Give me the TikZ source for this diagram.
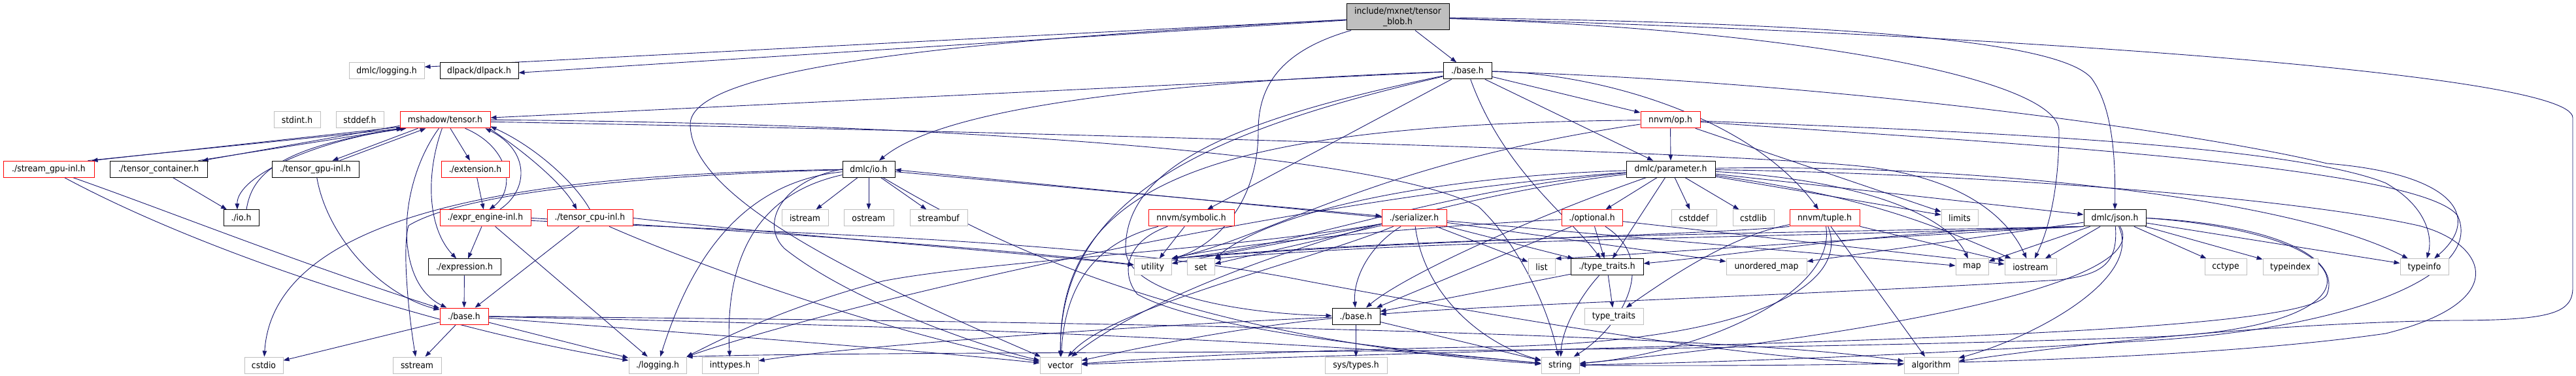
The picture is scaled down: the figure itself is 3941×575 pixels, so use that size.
\documentclass[tikz,border=0pt]{standalone}
\usepackage{fontspec}
\setmainfont{DejaVu Sans}[FakeStretch=0.92]
\usepackage{tikz}
\usetikzlibrary{arrows.meta,calc,positioning,backgrounds}
\definecolor{edgeblue}{HTML}{191970}
\definecolor{leafgray}{HTML}{BFBFBF}

\begin{document}
\begin{tikzpicture}[x=1pt,y=-1pt,
    box/.style={rectangle,minimum height=25pt,inner xsep=1pt,inner ysep=0pt,line width=1pt,fill=white,font=\fontsize{13.5}{16}\selectfont},
    leaf/.style={box,draw=leafgray},
    doc/.style={box,draw=black},
    trunc/.style={box,draw=red},
    edge/.style={draw=edgeblue,line width=0.9pt,-{Triangle[length=9pt,width=6.5pt]}}]
                \useasboundingbox (0,0) rectangle (3941,575);
                %Root
                \node[doc,fill=leafgray,minimum width=157pt,minimum height=40pt,align=center] (blob) at (2138.5,26) {include/mxnet/tensor\\\_blob.h};
                %Row 1
                \node[leaf,minimum width=115pt] (dmlclog) at (591.5,108.3) {dmlc/logging.h};
                \node[doc,minimum width=120pt] (dlpack) at (733,108.3) {dlpack/dlpack.h};
                \node[doc,minimum width=74pt] (mxbase) at (2245,108.3) {./base.h};
                %Row 2
                \node[leaf,minimum width=71pt] (stdint) at (454.5,183.3) {stdint.h};
                \node[leaf,minimum width=73pt] (stddef) at (550.5,183.3) {stddef.h};
                \node[trunc,minimum width=138pt] (tensor) at (681,183.3) {mshadow/tensor.h};
                \node[trunc,minimum width=91pt] (nnvmop) at (2555.5,183.3) {nnvm/op.h};
                %Row 3
                \node[trunc,minimum width=139pt] (streamgpu) at (74.5,258.6) {./stream\_gpu-inl.h};
                \node[doc,minimum width=149pt] (tcont) at (242.5,258.6) {./tensor\_container.h};
                \node[doc,minimum width=133pt] (tgpu) at (482.5,258.6) {./tensor\_gpu-inl.h};
                \node[trunc,minimum width=104pt] (ext) at (727,258.6) {./extension.h};
                \node[doc,minimum width=80pt] (dmlcio) at (1329,258.6) {dmlc/io.h};
                \node[doc,minimum width=136pt] (param) at (2556,258.6) {dmlc/parameter.h};
                %Row 4
                \node[doc,minimum width=54pt] (ioh) at (369,333.4) {./io.h};
                \node[trunc,minimum width=139pt] (exprengine) at (742.5,333.4) {./expr\_engine-inl.h};
                \node[trunc,minimum width=131pt] (tcpu) at (902.5,333.4) {./tensor\_cpu-inl.h};
                \node[leaf,minimum width=71pt] (istream) at (1231.5,333.4) {istream};
                \node[leaf,minimum width=76pt] (ostream) at (1329,333.4) {ostream};
                \node[leaf,minimum width=88pt] (streambuf) at (1436,333.4) {streambuf};
                \node[trunc,minimum width=131pt] (symbolic) at (1822.5,333.4) {nnvm/symbolic.h};
                \node[trunc,minimum width=99pt] (serializer) at (2163.5,333.4) {./serializer.h};
                \node[trunc,minimum width=93pt] (optional) at (2435.5,333.4) {./optional.h};
                \node[leaf,minimum width=69pt] (cstddef) at (2591.5,333.4) {cstddef};
                \node[leaf,minimum width=63pt] (cstdlib) at (2682.5,333.4) {cstdlib};
                \node[trunc,minimum width=107pt] (tuple) at (2791.5,333.4) {nnvm/tuple.h};
                \node[leaf,minimum width=56pt] (limits) at (2998,333.4) {limits};
                \node[doc,minimum width=95pt] (json) at (3235.5,333.4) {dmlc/json.h};
                %Row 5
                \node[doc,minimum width=111pt] (expression) at (710.5,408.4) {./expression.h};
                \node[leaf,minimum width=57pt] (utility) at (1763.5,408.4) {utility};
                \node[leaf,minimum width=42pt] (set) at (1837,408.4) {set};
                \node[leaf,minimum width=41pt] (list) at (2358.5,408.4) {list};
                \node[doc,minimum width=111pt] (typetraitsh) at (2458.5,408.4) {./type\_traits.h};
                \node[leaf,minimum width=123pt] (unorderedmap) at (2702.5,408.4) {unordered\_map};
                \node[leaf,minimum width=50pt] (map) at (3017,408.4) {map};
                \node[leaf,minimum width=79pt] (iostream) at (3106.5,408.4) {iostream};
                \node[leaf,minimum width=64pt] (cctype) at (3405,408.4) {cctype};
                \node[leaf,minimum width=84pt] (typeindex) at (3504,408.4) {typeindex};
                \node[leaf,minimum width=74pt] (typeinfo) at (3709,408.4) {typeinfo};
                %Row 6
                \node[trunc,minimum width=74pt] (mshbase) at (710,483.5) {./base.h};
                \node[doc,minimum width=73pt] (dmlcbase) at (2074.5,483.5) {./base.h};
                \node[leaf,minimum width=90pt] (typetraits) at (2469,483.5) {type\_traits};
                %Row 7
                \node[leaf,minimum width=59pt] (cstdio) at (403.5,558.5) {cstdio};
                \node[leaf,minimum width=74pt] (sstream) at (638,558.5) {sstream};
                \node[leaf,minimum width=88pt] (logging) at (1006,558.5) {./logging.h};
                \node[leaf,minimum width=86pt] (inttypes) at (1117,558.5) {inttypes.h};
                \node[leaf,minimum width=63pt] (vector) at (1622.5,558.5) {vector};
                \node[leaf,minimum width=95pt] (systypes) at (2074.5,558.5) {sys/types.h};
                \node[leaf,minimum width=58pt] (string) at (2387,558.5) {string};
                \node[leaf,minimum width=83pt] (algorithm) at (2954.5,558.5) {algorithm};
                \begin{pgfonlayer}{background}
                %Edges from the root
                \draw[edge] (blob) -- ([yshift=6pt]dmlclog.east);
                \draw[edge] (blob) -- ([yshift=-3pt]dlpack.east);
                \draw[edge] (blob) -- (mxbase);
                \draw[edge] (blob) .. controls (1950,80) and (1925,140) .. (1925,200) .. controls (1925,320) and (1850,380) .. (utility.north east);
                \draw[edge] (blob) .. controls (1500,60) and (1056,100) .. (1056,190) .. controls (1056,300) and (1300,420) .. (vector);
                \draw[edge] (blob) .. controls (2800,35) and (3150,60) .. (3200,120) .. controls (3236,170) and (3236,260) .. (json);
                \draw[edge] (blob) .. controls (2750,45) and (3150,120) .. (3150,200) .. controls (3150,300) and (3130,360) .. (iostream);
                \draw[edge] (blob) .. controls (3000,50) and (3936,110) .. (3936,180) -- (3936,440) .. controls (3936,480) and (3900,490) .. (3750,490) .. controls (3450,495) and (3150,530) .. (algorithm);
                %Edges from ./base.h
                \draw[edge] (mxbase) -- (tensor);
                \draw[edge] (mxbase) .. controls (1800,125) and (1450,160) .. (dmlcio);
                \draw[edge] (mxbase) -- (param);
                \draw[edge] (mxbase) -- (nnvmop);
                \draw[edge] (mxbase) .. controls (2300,260) and (2400,330) .. (typetraitsh);
                \draw[edge] (mxbase) -- (symbolic);
                \draw[edge] (mxbase) .. controls (2450,112) and (2680,180) .. (tuple);
                \draw[edge] (mxbase) .. controls (2800,125) and (3350,200) .. (3560,250) .. controls (3750,265) and (3800,330) .. (typeinfo);
                \draw[edge] (mxbase) .. controls (1850,200) and (1620,300) .. (vector);
                \draw[edge] (mxbase) .. controls (1900,180) and (1722,250) .. (1722,380) .. controls (1722,450) and (1900,480) .. (dmlcbase);
                %Edges of mshadow/tensor.h
                \draw[edge] ([yshift=2pt]tensor.south west) -- ([xshift=-4pt]streamgpu.north east);
                \draw[edge] ([xshift=-10pt]streamgpu.north east) -- ([xshift=6pt]tensor.south west);
                \draw[edge] ([yshift=4pt]tensor.south west) -- ([xshift=-8pt]tcont.north east);
                \draw[edge] ([xshift=-14pt]tcont.north east) -- ([xshift=4pt]tensor.south west);
                \draw[edge] ([xshift=28pt]tensor.south west) -- ([xshift=93pt]tgpu.north west);
                \draw[edge] ([xshift=104pt]tgpu.north west) -- ([xshift=40pt]tensor.south west);
                \draw[edge] ([xshift=6pt]tensor.south west) .. controls (480,215) and (362,270) .. ([xshift=-6pt]ioh.north);
                \draw[edge] ([xshift=8pt]ioh.north) .. controls (385,270) and (420,225) .. ([xshift=10pt]tensor.south west);
                \draw[edge] (tensor) -- (ext);
                \draw[edge] ([xshift=100pt]tensor.south west) .. controls (780,225) and (790,290) .. ([xshift=6pt]exprengine.north);
                \draw[edge] ([xshift=22pt]exprengine.north) .. controls (810,290) and (810,230) .. ([xshift=-8pt]tensor.south east);
                \draw[edge] ([xshift=-2pt]tensor.south east) .. controls (800,230) and (860,280) .. ([xshift=-20pt]tcpu.north);
                \draw[edge] (tcpu.north) .. controls (880,280) and (820,225) .. ([yshift=3pt]tensor.south east);
                \draw[edge] (tensor) .. controls (650,270) and (655,350) .. (expression);
                \draw[edge] (tensor) .. controls (610,280) and (600,430) .. (mshbase);
                \draw[edge] (tensor.east) .. controls (1400,188) and (2100,230) .. (2262,316) .. controls (2330,380) and (2370,480) .. (string);
                \draw[edge] ([yshift=-3pt]tensor.east) .. controls (1500,200) and (2600,230) .. (2845,254) .. controls (3000,270) and (3070,330) .. (iostream);
                %Edges of the mshadow headers
                \draw[edge] (streamgpu) .. controls (250,320) and (450,400) .. (mshbase);
                \draw[edge] (streamgpu) .. controls (300,380) and (650,500) .. (logging);
                \draw[edge] (tcont) -- (ioh);
                \draw[edge] (tgpu) .. controls (500,360) and (580,450) .. (mshbase);
                \draw[edge] (ext) -- (exprengine);
                \draw[edge] (exprengine) -- (expression);
                \draw[edge] (exprengine) -- (logging);
                \draw[edge] (exprengine.east) .. controls (1000,345) and (1500,375) .. (utility);
                \draw[edge] ([yshift=-4pt]exprengine.east) .. controls (1300,360) and (1700,370) .. (2000,430) .. controls (2400,505) and (2700,550) .. (algorithm);
                \draw[edge] (tcpu) -- (mshbase);
                \draw[edge] (tcpu.east) .. controls (1150,355) and (1550,385) .. (utility);
                \draw[edge] (tcpu) .. controls (1100,420) and (1400,520) .. (vector);
                \draw[edge] (expression) -- (mshbase);
                \draw[edge] (mshbase) -- (cstdio);
                \draw[edge] (mshbase) -- (sstream);
                \draw[edge] (mshbase) -- (logging);
                \draw[edge] (mshbase) .. controls (1300,495) and (2000,520) .. (string);
                \draw[edge] (mshbase) .. controls (1000,505) and (1400,535) .. (vector);
                \draw[edge] (mshbase) .. controls (1500,490) and (2600,505) .. (algorithm);
                %Edges of dmlc/io.h
                \draw[edge] (dmlcio) -- (istream);
                \draw[edge] (dmlcio) -- (ostream);
                \draw[edge] (dmlcio) -- (streambuf);
                \draw[edge] (dmlcio) .. controls (1120,280) and (1050,420) .. (logging);
                \draw[edge] (dmlcio) .. controls (1140,300) and (1110,420) .. (inttypes);
                \draw[edge] (dmlcio.west) .. controls (1200,275) and (1160,340) .. (1200,380) .. controls (1300,460) and (1500,530) .. (vector);
                \draw[edge] (dmlcio) .. controls (1500,360) and (1800,520) .. (string);
                \draw[edge] (dmlcio) .. controls (900,265) and (420,300) .. (cstdio);
                \draw[edge] (dmlcio) .. controls (900,270) and (690,305) .. (625,345) .. controls (615,380) and (625,480) .. (sstream);
                \draw[edge] ([yshift=-4pt]dmlcio.east) -- ([yshift=3pt]serializer.west);
                \draw[edge] ([yshift=1pt]serializer.west) -- ([yshift=-1pt]dmlcio.east);
                %Edges of nnvm/symbolic.h
                \draw[edge] (symbolic) -- (utility);
                \draw[edge] (symbolic) .. controls (1680,370) and (1630,430) .. (vector);
                \draw[edge] (symbolic) .. controls (1720,370) and (1715,420) .. (1740,450) .. controls (1850,510) and (2200,540) .. (string);
                %Edges of ./serializer.h
                \draw[edge] (serializer) .. controls (2090,380) and (2070,430) .. (dmlcbase);
                \draw[edge] (serializer) .. controls (2180,460) and (2280,530) .. (string);
                \draw[edge] (serializer) -- (list);
                \draw[edge] (serializer) -- (typetraitsh);
                \draw[edge] (serializer) -- (utility);
                \draw[edge] (serializer) -- (set);
                \draw[edge] (serializer) .. controls (2000,400) and (1700,470) .. (vector);
                \draw[edge] (serializer) -- (map);
                \draw[edge] (serializer) -- (unorderedmap);
                \draw[edge] (serializer) .. controls (1900,380) and (1500,400) .. (1350,430) .. controls (1200,470) and (1100,520) .. (logging.north east);
                %Edges of ./optional.h
                \draw[edge] (optional) -- (typetraitsh);
                \draw[edge] (optional) -- (dmlcbase);
                \draw[edge] (optional) .. controls (2540,400) and (2480,500) .. (string);
                \draw[edge] (optional) .. controls (2200,345) and (1900,370) .. (utility.north east);
                \draw[edge] (optional) -- (iostream);
                %Edges of dmlc/parameter.h
                \draw[edge] (param) -- (optional);
                \draw[edge] (param) -- (typetraitsh);
                \draw[edge] (param) -- (cstddef);
                \draw[edge] (param) -- (cstdlib);
                \draw[edge] (param) .. controls (2350,330) and (2150,420) .. (dmlcbase);
                \draw[edge] (param) -- (limits);
                \draw[edge] (param) -- (json);
                \draw[edge] (param) .. controls (2850,275) and (2980,330) .. (map);
                \draw[edge] (param) .. controls (2850,300) and (2950,340) .. (iostream);
                \draw[edge] (param) .. controls (3000,250) and (3500,300) .. (typeinfo);
                \draw[edge] (param) .. controls (2200,270) and (1950,320) .. (set.north east);
                \draw[edge] (param) .. controls (2200,290) and (1980,380) .. (utility.north east);
                \draw[edge] (param) .. controls (2200,300) and (1800,420) .. (vector);
                \draw[edge] (param) .. controls (2000,300) and (1300,460) .. (logging.north east);
                \draw[edge] (param) .. controls (3000,265) and (3500,300) .. (3700,345) .. controls (3800,370) and (3850,460) .. (3650,510) .. controls (3300,560) and (2700,560) .. (string);
                %Edges of dmlc/json.h
                \draw[edge] (json) -- (iostream);
                \draw[edge] (json) -- (map);
                \draw[edge] (json) -- (cctype);
                \draw[edge] (json) -- (typeindex);
                \draw[edge] (json) -- (typeinfo);
                \draw[edge] (json) -- (unorderedmap);
                \draw[edge] (json.south west) .. controls (2900,350) and (2700,385) .. (typetraitsh);
                \draw[edge] (json.south west) .. controls (2900,360) and (2500,390) .. (list.north east);
                \draw[edge] (json.south west) .. controls (2800,355) and (2200,360) .. (utility.north east);
                \draw[edge] (json.south west) .. controls (2800,362) and (2200,365) .. (set.north east);
                \draw[edge] (json) .. controls (3240,400) and (3220,420) .. (3150,428) .. controls (2800,450) and (2300,465) .. (dmlcbase);
                \draw[edge] (json) .. controls (3280,430) and (3100,520) .. (algorithm);
                \draw[edge] (json) .. controls (3300,440) and (2800,520) .. (string);
                \draw[edge] (json.east) .. controls (3500,345) and (3580,400) .. (3560,450) .. controls (3530,520) and (2500,525) .. (vector);
                \draw[edge] (json.east) .. controls (3650,360) and (3650,500) .. (3300,515) .. controls (2500,545) and (1400,535) .. (logging.north east);
                %Edges of nnvm/tuple.h
                \draw[edge] (tuple) .. controls (2650,360) and (2560,420) .. (typetraits);
                \draw[edge] (tuple.south west) .. controls (2600,360) and (2200,365) .. (utility.north east);
                \draw[edge] (tuple) .. controls (2810,450) and (2600,540) .. (string);
                \draw[edge] (tuple) .. controls (2830,430) and (2700,520) .. (2300,530) .. controls (2000,535) and (1800,545) .. (vector);
                \draw[edge] (tuple) -- (algorithm);
                \draw[edge] (tuple) -- (iostream);
                %Edges of nnvm/op.h
                \draw[edge] (nnvmop) -- (param);
                \draw[edge] (nnvmop) -- (limits);
                \draw[edge] (nnvmop) .. controls (3000,200) and (3500,220) .. (3650,280) .. controls (3720,320) and (3720,370) .. (typeinfo);
                \draw[edge] (nnvmop) .. controls (2100,250) and (1950,360) .. (utility.north east);
                \draw[edge] (nnvmop) .. controls (1850,190) and (1620,280) .. (vector);
                \draw[edge] (nnvmop) .. controls (3000,215) and (3700,250) .. (3760,330) .. controls (3800,420) and (3600,500) .. (3300,520) .. controls (2900,545) and (2600,555) .. (string);
                %Edges of the dmlc base headers
                \draw[edge] (typetraitsh) -- (dmlcbase);
                \draw[edge] (typetraitsh) -- (typetraits);
                \draw[edge] (typetraitsh) .. controls (2420,450) and (2390,500) .. (string);
                \draw[edge] (dmlcbase) -- (systypes);
                \draw[edge] (dmlcbase) -- (string);
                \draw[edge] (dmlcbase) .. controls (1700,500) and (1300,530) .. (inttypes);
                \draw[edge] (dmlcbase) .. controls (1900,500) and (1750,530) .. (vector);
                \end{pgfonlayer}
            \end{tikzpicture}
\end{document}
